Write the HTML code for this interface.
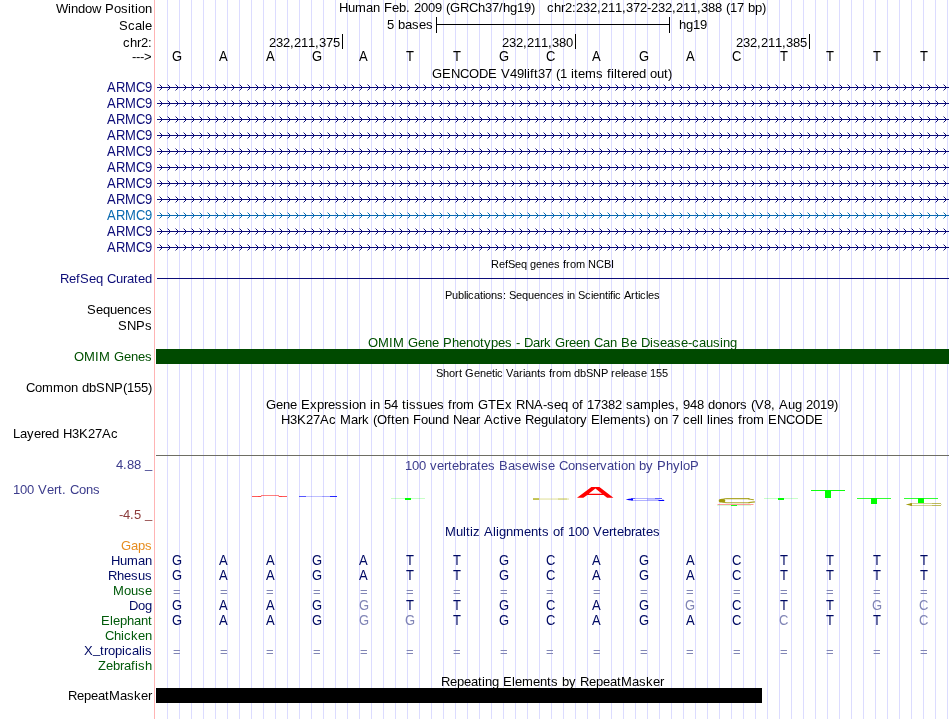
<!DOCTYPE html>
<html><head><meta charset="utf-8"><title>UCSC Genome Browser</title>
<style>html,body{margin:0;padding:0;background:#fff;overflow:hidden}svg{display:block;will-change:transform}text{font-family:"Liberation Sans",sans-serif;font-size:13px}.s{font-size:11px}</style></head><body>
<svg width="950" height="719" viewBox="0 0 950 719">
<rect width="950" height="719" fill="#fff"/>
<g fill="#dcdcff" shape-rendering="crispEdges">
<rect x="167" y="0" width="1" height="719"/>
<rect x="179" y="0" width="1" height="719"/>
<rect x="191" y="0" width="1" height="719"/>
<rect x="203" y="0" width="1" height="719"/>
<rect x="215" y="0" width="1" height="719"/>
<rect x="227" y="0" width="1" height="719"/>
<rect x="239" y="0" width="1" height="719"/>
<rect x="251" y="0" width="1" height="719"/>
<rect x="263" y="0" width="1" height="719"/>
<rect x="275" y="0" width="1" height="719"/>
<rect x="287" y="0" width="1" height="719"/>
<rect x="299" y="0" width="1" height="719"/>
<rect x="311" y="0" width="1" height="719"/>
<rect x="323" y="0" width="1" height="719"/>
<rect x="335" y="0" width="1" height="719"/>
<rect x="347" y="0" width="1" height="719"/>
<rect x="359" y="0" width="1" height="719"/>
<rect x="371" y="0" width="1" height="719"/>
<rect x="383" y="0" width="1" height="719"/>
<rect x="395" y="0" width="1" height="719"/>
<rect x="407" y="0" width="1" height="719"/>
<rect x="419" y="0" width="1" height="719"/>
<rect x="431" y="0" width="1" height="719"/>
<rect x="443" y="0" width="1" height="719"/>
<rect x="455" y="0" width="1" height="719"/>
<rect x="467" y="0" width="1" height="719"/>
<rect x="479" y="0" width="1" height="719"/>
<rect x="491" y="0" width="1" height="719"/>
<rect x="503" y="0" width="1" height="719"/>
<rect x="515" y="0" width="1" height="719"/>
<rect x="527" y="0" width="1" height="719"/>
<rect x="539" y="0" width="1" height="719"/>
<rect x="551" y="0" width="1" height="719"/>
<rect x="563" y="0" width="1" height="719"/>
<rect x="575" y="0" width="1" height="719"/>
<rect x="587" y="0" width="1" height="719"/>
<rect x="599" y="0" width="1" height="719"/>
<rect x="611" y="0" width="1" height="719"/>
<rect x="623" y="0" width="1" height="719"/>
<rect x="635" y="0" width="1" height="719"/>
<rect x="647" y="0" width="1" height="719"/>
<rect x="659" y="0" width="1" height="719"/>
<rect x="671" y="0" width="1" height="719"/>
<rect x="683" y="0" width="1" height="719"/>
<rect x="695" y="0" width="1" height="719"/>
<rect x="707" y="0" width="1" height="719"/>
<rect x="719" y="0" width="1" height="719"/>
<rect x="731" y="0" width="1" height="719"/>
<rect x="743" y="0" width="1" height="719"/>
<rect x="755" y="0" width="1" height="719"/>
<rect x="767" y="0" width="1" height="719"/>
<rect x="779" y="0" width="1" height="719"/>
<rect x="791" y="0" width="1" height="719"/>
<rect x="803" y="0" width="1" height="719"/>
<rect x="815" y="0" width="1" height="719"/>
<rect x="827" y="0" width="1" height="719"/>
<rect x="839" y="0" width="1" height="719"/>
<rect x="851" y="0" width="1" height="719"/>
<rect x="863" y="0" width="1" height="719"/>
<rect x="875" y="0" width="1" height="719"/>
<rect x="887" y="0" width="1" height="719"/>
<rect x="899" y="0" width="1" height="719"/>
<rect x="911" y="0" width="1" height="719"/>
<rect x="923" y="0" width="1" height="719"/>
<rect x="935" y="0" width="1" height="719"/>
<rect x="947" y="0" width="1" height="719"/>
</g>
<rect x="154" y="0" width="1" height="719" fill="#ffb4b4" shape-rendering="crispEdges"/>
<text x="56 68 71 78 85 92 101 105 114 121 128 131 135 138 145" y="12.6" xml:space="preserve">Window Position</text>
<text x="119 128 135 142 145" y="29.6">Scale</text>
<text x="123 130 137 141 148" y="46.6">chr2:</text>
<text x="132 136 140 144" y="60.6">---&gt;</text>
<text x="339 348 355 366 373 380 384 392 399 406 410 414 421 428 435 442 446 450 460 469 478 485 492 499 503 510 517 524 531 535 539 543 547 554 561 565 572 576 583 590 597 601 608 615 622 626 633 640 647 651 658 665 672 676 683 690 697 701 708 715 722 726 730 737 744 748 755 762" y="12.3" xml:space="preserve">Human Feb. 2009 (GRCh37/hg19)   chr2:232,211,372-232,211,388 (17 bp)</text>
<text x="387 394 398 405 412 419 426" y="28.7" xml:space="preserve">5 bases</text>
<text x="679 686 693 700" y="28.7">hg19</text>
<g fill="#000" shape-rendering="crispEdges">
<rect x="436" y="17" width="1" height="16"/><rect x="669" y="17" width="1" height="16"/><rect x="436" y="24" width="234" height="1"/>
<rect x="342" y="34" width="1" height="15"/>
<rect x="575" y="34" width="1" height="15"/>
<rect x="809" y="34" width="1" height="15"/>
</g>
<text x="269 276 283 290 294 301 308 315 319 326 333" y="46.9">232,211,375</text>
<text x="502 509 516 523 527 534 541 548 552 559 566" y="46.9">232,211,380</text>
<text x="736 743 750 757 761 768 775 782 786 793 800" y="46.9">232,211,385</text>
<text x="172" transform="matrix(1 0 0 1.1 0 60.6)">G</text>
<text x="219" transform="matrix(1 0 0 1.1 0 60.6)">A</text>
<text x="266" transform="matrix(1 0 0 1.1 0 60.6)">A</text>
<text x="312" transform="matrix(1 0 0 1.1 0 60.6)">G</text>
<text x="359" transform="matrix(1 0 0 1.1 0 60.6)">A</text>
<text x="406" transform="matrix(1 0 0 1.1 0 60.6)">T</text>
<text x="453" transform="matrix(1 0 0 1.1 0 60.6)">T</text>
<text x="499" transform="matrix(1 0 0 1.1 0 60.6)">G</text>
<text x="546" transform="matrix(1 0 0 1.1 0 60.6)">C</text>
<text x="592" transform="matrix(1 0 0 1.1 0 60.6)">A</text>
<text x="639" transform="matrix(1 0 0 1.1 0 60.6)">G</text>
<text x="686" transform="matrix(1 0 0 1.1 0 60.6)">A</text>
<text x="732" transform="matrix(1 0 0 1.1 0 60.6)">C</text>
<text x="780" transform="matrix(1 0 0 1.1 0 60.6)">T</text>
<text x="826" transform="matrix(1 0 0 1.1 0 60.6)">T</text>
<text x="873" transform="matrix(1 0 0 1.1 0 60.6)">T</text>
<text x="920" transform="matrix(1 0 0 1.1 0 60.6)">T</text>
<text x="432 442 451 460 469 479 488 497 501 510 517 524 527 530 534 538 545 552 556 560 567 571 574 578 585 596 603 607 611 614 617 621 628 632 639 646 650 657 664 668" y="78" xml:space="preserve">GENCODE V49lift37 (1 items filtered out)</text>
<defs><g id="c"><path d="M-2,-2h1v1h1v1h1v1h-1v1h-1v1h-1v-1h1v-1h1v-1h-1v-1h-1z"/><path opacity=".45" d="M-3,-3h1v1h-1zM-3,3h1v1h-1z"/></g><g id="r" shape-rendering="crispEdges"><rect x="157" y="0" width="792" height="1"/><use href="#c" x="162"/><use href="#c" x="170"/><use href="#c" x="178"/><use href="#c" x="186"/><use href="#c" x="194"/><use href="#c" x="202"/><use href="#c" x="210"/><use href="#c" x="218"/><use href="#c" x="226"/><use href="#c" x="234"/><use href="#c" x="242"/><use href="#c" x="250"/><use href="#c" x="258"/><use href="#c" x="266"/><use href="#c" x="274"/><use href="#c" x="282"/><use href="#c" x="290"/><use href="#c" x="298"/><use href="#c" x="306"/><use href="#c" x="314"/><use href="#c" x="322"/><use href="#c" x="330"/><use href="#c" x="338"/><use href="#c" x="346"/><use href="#c" x="354"/><use href="#c" x="362"/><use href="#c" x="370"/><use href="#c" x="378"/><use href="#c" x="386"/><use href="#c" x="394"/><use href="#c" x="402"/><use href="#c" x="410"/><use href="#c" x="418"/><use href="#c" x="426"/><use href="#c" x="434"/><use href="#c" x="442"/><use href="#c" x="450"/><use href="#c" x="458"/><use href="#c" x="466"/><use href="#c" x="474"/><use href="#c" x="482"/><use href="#c" x="490"/><use href="#c" x="498"/><use href="#c" x="506"/><use href="#c" x="514"/><use href="#c" x="522"/><use href="#c" x="530"/><use href="#c" x="538"/><use href="#c" x="546"/><use href="#c" x="554"/><use href="#c" x="562"/><use href="#c" x="570"/><use href="#c" x="578"/><use href="#c" x="586"/><use href="#c" x="594"/><use href="#c" x="602"/><use href="#c" x="610"/><use href="#c" x="618"/><use href="#c" x="626"/><use href="#c" x="634"/><use href="#c" x="642"/><use href="#c" x="650"/><use href="#c" x="658"/><use href="#c" x="666"/><use href="#c" x="674"/><use href="#c" x="682"/><use href="#c" x="690"/><use href="#c" x="698"/><use href="#c" x="706"/><use href="#c" x="714"/><use href="#c" x="722"/><use href="#c" x="730"/><use href="#c" x="738"/><use href="#c" x="746"/><use href="#c" x="754"/><use href="#c" x="762"/><use href="#c" x="770"/><use href="#c" x="778"/><use href="#c" x="786"/><use href="#c" x="794"/><use href="#c" x="802"/><use href="#c" x="810"/><use href="#c" x="818"/><use href="#c" x="826"/><use href="#c" x="834"/><use href="#c" x="842"/><use href="#c" x="850"/><use href="#c" x="858"/><use href="#c" x="866"/><use href="#c" x="874"/><use href="#c" x="882"/><use href="#c" x="890"/><use href="#c" x="898"/><use href="#c" x="906"/><use href="#c" x="914"/><use href="#c" x="922"/><use href="#c" x="930"/><use href="#c" x="938"/><use href="#c" x="946"/></g></defs>
<text x="107 116 125 136 145" transform="matrix(1 0 0 1.1 0 92)" fill="#0c0c78">ARMC9</text>
<use href="#r" y="87" fill="#0c0c78"/>
<text x="107 116 125 136 145" transform="matrix(1 0 0 1.1 0 108)" fill="#0c0c78">ARMC9</text>
<use href="#r" y="103" fill="#0c0c78"/>
<text x="107 116 125 136 145" transform="matrix(1 0 0 1.1 0 124)" fill="#0c0c78">ARMC9</text>
<use href="#r" y="119" fill="#0c0c78"/>
<text x="107 116 125 136 145" transform="matrix(1 0 0 1.1 0 140)" fill="#0c0c78">ARMC9</text>
<use href="#r" y="135" fill="#0c0c78"/>
<text x="107 116 125 136 145" transform="matrix(1 0 0 1.1 0 156)" fill="#0c0c78">ARMC9</text>
<use href="#r" y="151" fill="#0c0c78"/>
<text x="107 116 125 136 145" transform="matrix(1 0 0 1.1 0 172)" fill="#0c0c78">ARMC9</text>
<use href="#r" y="167" fill="#0c0c78"/>
<text x="107 116 125 136 145" transform="matrix(1 0 0 1.1 0 188)" fill="#0c0c78">ARMC9</text>
<use href="#r" y="183" fill="#0c0c78"/>
<text x="107 116 125 136 145" transform="matrix(1 0 0 1.1 0 204)" fill="#0c0c78">ARMC9</text>
<use href="#r" y="199" fill="#0c0c78"/>
<text x="107 116 125 136 145" transform="matrix(1 0 0 1.1 0 220)" fill="#0a6ab0">ARMC9</text>
<use href="#r" y="215" fill="#0a6ab0"/>
<text x="107 116 125 136 145" transform="matrix(1 0 0 1.1 0 236)" fill="#0c0c78">ARMC9</text>
<use href="#r" y="231" fill="#0c0c78"/>
<text x="107 116 125 136 145" transform="matrix(1 0 0 1.1 0 252)" fill="#0c0c78">ARMC9</text>
<use href="#r" y="247" fill="#0c0c78"/>
<text x="60 69 76 80 89 96 103 107 116 123 127 134 138 145" y="282.7" fill="#0c0c78" xml:space="preserve">RefSeq Curated</text>
<rect x="157" y="278" width="792" height="1" fill="#0c0c78" shape-rendering="crispEdges"/>
<text x="491 499 505 508 515 521 527 530 536 542 548 554 560 563 566 570 576 585 588 596 604 611" y="268" class="s" xml:space="preserve">RefSeq genes from NCBI</text>
<text x="445 452 458 464 466 468 474 480 483 485 491 497 503 506 509 516 522 528 534 540 546 552 558 564 567 569 575 578 585 591 593 599 605 608 610 613 615 621 624 631 635 638 640 646 648 654" y="299" class="s" xml:space="preserve">Publications: Sequences in Scientific Articles</text>
<text x="87 96 103 110 117 124 131 138 145" y="313.7">Sequences</text>
<text x="118 127 136 145" y="329.7">SNPs</text>
<text x="368 378 389 393 404 408 418 425 432 439 443 452 459 466 473 480 484 491 498 505 512 516 520 524 533 540 544 551 555 565 569 576 583 590 594 603 610 617 621 630 637 641 650 653 660 667 674 681 688 692 699 706 713 720 723 730" y="346.5" fill="#005000" xml:space="preserve">OMIM Gene Phenotypes - Dark Green Can Be Disease-causing</text>
<text x="74 84 95 99 110 114 124 131 138 145" y="360.7" fill="#005000" xml:space="preserve">OMIM Genes</text>
<rect x="156" y="349" width="793" height="15" fill="#004a00" shape-rendering="crispEdges"/>
<text x="436 443 449 455 459 462 465 474 480 486 492 495 497 503 506 513 519 523 525 531 537 540 546 549 552 556 562 571 574 580 586 593 601 608 611 615 621 623 629 635 641 647 650 656 662" y="377" class="s" xml:space="preserve">Short Genetic Variants from dbSNP release 155</text>
<text x="26 35 42 53 64 71 78 82 89 96 105 114 123 127 134 141 148" y="391.7" xml:space="preserve">Common dbSNP(155)</text>
<text x="266 276 283 290 297 301 310 317 324 328 335 342 349 352 359 366 370 373 380 384 391 398 402 406 409 416 423 430 437 444 448 452 456 463 474 478 488 496 505 512 516 525 534 543 547 554 561 568 572 579 583 587 594 601 608 615 622 626 633 640 651 658 661 668 675 679 683 690 697 704 708 715 722 729 736 740 747 751 755 764 771 775 779 788 795 802 806 813 820 827 834" y="408.7" xml:space="preserve">Gene Expression in 54 tissues from GTEx RNA-seq of 17382 samples, 948 donors (V8, Aug 2019)</text>
<text x="281 290 297 306 313 320 329 336 340 351 358 362 369 373 377 387 391 395 402 409 413 421 428 435 442 449 453 462 469 476 480 484 493 500 504 507 514 521 525 534 541 548 555 558 565 569 576 580 587 591 600 603 610 621 628 635 639 646 650 654 661 668 672 679 683 690 697 700 703 707 710 713 720 727 734 738 742 746 753 764 768 777 786 795 805 814" y="423.7" xml:space="preserve">H3K27Ac Mark (Often Found Near Active Regulatory Elements) on 7 cell lines from ENCODE</text>
<text x="13 20 27 34 41 45 52 59 63 72 79 88 95 102 111" y="437.9" xml:space="preserve">Layered H3K27Ac</text>
<rect x="156" y="455" width="793" height="1" fill="#6e6e64" shape-rendering="crispEdges"/>
<text x="116 123 127 134 141 145" y="469.2" dy="0 0 0 0 0 -1.3" fill="#3c3c8c" xml:space="preserve">4.88 _</text>
<text x="13 20 27 34 38 47 54 58 62 66 70 79 86 93" y="494.2" fill="#3c3c8c" xml:space="preserve">100 Vert. Cons</text>
<text x="119 123 130 134 141 145" y="519.2" dy="0 0 0 0 0 -1.3" fill="#8c3c3c" xml:space="preserve">-4.5 _</text>
<text x="405 412 419 426 430 437 444 448 452 459 466 470 477 481 488 495 499 508 515 522 529 538 541 548 555 559 568 575 582 589 596 600 607 614 618 621 628 635 639 646 653 657 666 673 680 683 690" y="469.7" fill="#3c3c8c" xml:space="preserve">100 vertebrates Basewise Conservation by PhyloP</text>
<g shape-rendering="crispEdges">
<rect x="252" y="496" width="9" height="1" fill="#f00" opacity="0.65"/>
<rect x="261" y="495" width="18" height="1" fill="#f00" opacity="0.5"/>
<rect x="279" y="496" width="8" height="1" fill="#f00" opacity="0.65"/>
<rect x="258" y="495.5" width="4" height="1" fill="#f00" opacity="0.25"/>
<rect x="278" y="495.5" width="4" height="1" fill="#f00" opacity="0.25"/>
<rect x="299" y="496" width="38" height="1" fill="#00f" opacity="0.25"/>
<rect x="299" y="495.6" width="7" height="1.4" fill="#00f" opacity="0.55"/>
<rect x="330" y="496" width="7" height="1" fill="#00f" opacity="0.8"/>
<rect x="322" y="495.6" width="8" height="1" fill="#00f" opacity="0.15"/>
<rect x="391" y="498" width="34" height="1" fill="#0f0" opacity="0.22"/>
<rect x="405" y="498" width="6" height="2" fill="#0f0"/>
<rect x="764" y="498" width="34" height="1" fill="#0f0" opacity="0.22"/>
<rect x="778" y="498" width="6" height="2" fill="#0f0"/>
<rect x="811" y="490" width="34" height="1" fill="#0f0" opacity="0.95"/>
<rect x="825" y="490" width="6" height="8" fill="#0f0"/>
<rect x="857" y="498" width="34" height="1" fill="#0f0" opacity="0.8"/>
<rect x="871" y="498" width="6" height="6" fill="#0f0"/>
<rect x="904" y="498" width="34" height="1" fill="#0f0" opacity="0.8"/>
<rect x="918" y="498" width="6" height="5" fill="#0f0"/>
</g>
<rect x="533" y="498.3" width="36" height="1.5" fill="#c8c850" opacity="0.4"/>
<rect x="533" y="498.2" width="6" height="1.7" fill="#b4b428" opacity="0.85"/>
<rect x="558" y="498.3" width="9" height="1.5" fill="#bcbc3c" opacity="0.4"/>
<path fill="#f00" fill-rule="evenodd" d="M577,497.8L591.4,486.9L599.4,486.9L613.4,497.8L607.1,497.8L603.6,495L587.4,495L583.3,497.8ZM595.4,488.5L602,493.8L588.7,493.8Z"/>
<path fill="#00f" d="M625.7,499.5L629,498.7L633,498.4L633,500.6L629,500.3Z"/>
<rect x="631" y="498" width="31" height="1" fill="#00f" opacity="0.3"/>
<rect x="631" y="500" width="28" height="1" fill="#00f" opacity="0.3"/>
<rect x="655" y="498" width="7" height="1" fill="#00f" opacity="0.45"/>
<rect x="631" y="498" width="4" height="1" fill="#00f" opacity="0.4"/>
<rect x="647" y="499" width="12" height="1" fill="#00f" opacity="0.22"/>
<rect x="658.5" y="500" width="5.7" height="1" fill="#00f"/>
<rect x="662" y="499" width="1.5" height="1" fill="#00f" opacity="0.25"/>
<path fill="none" stroke="#a09a0a" stroke-width="1.1" opacity=".85" d="M749.5,498.6L727,498.5Q722,498.8 721,500.6Q722,502.6 727,502.8L749.5,502.8"/>
<path fill="#a09a0a" opacity=".9" d="M748,498.6L754,499.2L753.6,500.2L748.5,499.6ZM748.5,502L754.8,501.2L755,502.4L748.5,503.3Z"/>
<ellipse cx="722" cy="500.7" rx="3.3" ry="1.9" fill="#a09a0a"/>
<rect x="717.5" y="504" width="36" height="1" fill="#ff6e6e" opacity="0.7"/>
<rect x="717" y="505" width="34" height="1" fill="#0f0" opacity="0.15"/>
<rect x="731" y="505" width="6" height="1" fill="#0f0" opacity="0.9"/>
<path fill="#a09a0a" d="M905.7,504.5L912,503L912,506Z"/>
<rect x="910" y="503" width="31" height="1" fill="#a09a0a" opacity="0.45"/>
<rect x="910" y="505" width="31" height="1" fill="#a09a0a" opacity="0.45"/>
<rect x="932" y="503" width="9" height="1" fill="#a09a0a" opacity="0.4"/>
<rect x="932" y="505" width="9" height="1" fill="#a09a0a" opacity="0.4"/>
<rect x="941" y="504" width="1" height="1" fill="#a09a0a" opacity="0.25"/>
<text x="445 456 463 466 470 473 480 484 493 496 499 506 513 524 531 538 542 549 553 560 564 568 575 582 589 593 602 609 613 617 624 631 635 642 646 653" y="535.7" fill="#000a64" xml:space="preserve">Multiz Alignments of 100 Vertebrates</text>
<text x="121 131 138 145" y="549.7" fill="#e68c1e">Gaps</text>
<text x="111 120 127 138 145" y="564.7" fill="#000a64">Human</text>
<text x="172" transform="matrix(1 0 0 1.1 0 564.7)" fill="#000a64">G</text>
<text x="219" transform="matrix(1 0 0 1.1 0 564.7)" fill="#000a64">A</text>
<text x="266" transform="matrix(1 0 0 1.1 0 564.7)" fill="#000a64">A</text>
<text x="312" transform="matrix(1 0 0 1.1 0 564.7)" fill="#000a64">G</text>
<text x="359" transform="matrix(1 0 0 1.1 0 564.7)" fill="#000a64">A</text>
<text x="406" transform="matrix(1 0 0 1.1 0 564.7)" fill="#000a64">T</text>
<text x="453" transform="matrix(1 0 0 1.1 0 564.7)" fill="#000a64">T</text>
<text x="499" transform="matrix(1 0 0 1.1 0 564.7)" fill="#000a64">G</text>
<text x="546" transform="matrix(1 0 0 1.1 0 564.7)" fill="#000a64">C</text>
<text x="592" transform="matrix(1 0 0 1.1 0 564.7)" fill="#000a64">A</text>
<text x="639" transform="matrix(1 0 0 1.1 0 564.7)" fill="#000a64">G</text>
<text x="686" transform="matrix(1 0 0 1.1 0 564.7)" fill="#000a64">A</text>
<text x="732" transform="matrix(1 0 0 1.1 0 564.7)" fill="#000a64">C</text>
<text x="780" transform="matrix(1 0 0 1.1 0 564.7)" fill="#000a64">T</text>
<text x="826" transform="matrix(1 0 0 1.1 0 564.7)" fill="#000a64">T</text>
<text x="873" transform="matrix(1 0 0 1.1 0 564.7)" fill="#000a64">T</text>
<text x="920" transform="matrix(1 0 0 1.1 0 564.7)" fill="#000a64">T</text>
<text x="108 117 124 131 138 145" y="579.7" fill="#000a64">Rhesus</text>
<text x="172" transform="matrix(1 0 0 1.1 0 579.7)" fill="#000a64">G</text>
<text x="219" transform="matrix(1 0 0 1.1 0 579.7)" fill="#000a64">A</text>
<text x="266" transform="matrix(1 0 0 1.1 0 579.7)" fill="#000a64">A</text>
<text x="312" transform="matrix(1 0 0 1.1 0 579.7)" fill="#000a64">G</text>
<text x="359" transform="matrix(1 0 0 1.1 0 579.7)" fill="#000a64">A</text>
<text x="406" transform="matrix(1 0 0 1.1 0 579.7)" fill="#000a64">T</text>
<text x="453" transform="matrix(1 0 0 1.1 0 579.7)" fill="#000a64">T</text>
<text x="499" transform="matrix(1 0 0 1.1 0 579.7)" fill="#000a64">G</text>
<text x="546" transform="matrix(1 0 0 1.1 0 579.7)" fill="#000a64">C</text>
<text x="592" transform="matrix(1 0 0 1.1 0 579.7)" fill="#000a64">A</text>
<text x="639" transform="matrix(1 0 0 1.1 0 579.7)" fill="#000a64">G</text>
<text x="686" transform="matrix(1 0 0 1.1 0 579.7)" fill="#000a64">A</text>
<text x="732" transform="matrix(1 0 0 1.1 0 579.7)" fill="#000a64">C</text>
<text x="780" transform="matrix(1 0 0 1.1 0 579.7)" fill="#000a64">T</text>
<text x="826" transform="matrix(1 0 0 1.1 0 579.7)" fill="#000a64">T</text>
<text x="873" transform="matrix(1 0 0 1.1 0 579.7)" fill="#000a64">T</text>
<text x="920" transform="matrix(1 0 0 1.1 0 579.7)" fill="#000a64">T</text>
<text x="113 124 131 138 145" y="594.7" fill="#005a0a">Mouse</text>
<text x="173" y="595.7" fill="#8085b5">=</text>
<text x="220" y="595.7" fill="#8085b5">=</text>
<text x="266" y="595.7" fill="#8085b5">=</text>
<text x="313" y="595.7" fill="#8085b5">=</text>
<text x="360" y="595.7" fill="#8085b5">=</text>
<text x="406" y="595.7" fill="#8085b5">=</text>
<text x="453" y="595.7" fill="#8085b5">=</text>
<text x="500" y="595.7" fill="#8085b5">=</text>
<text x="546" y="595.7" fill="#8085b5">=</text>
<text x="593" y="595.7" fill="#8085b5">=</text>
<text x="640" y="595.7" fill="#8085b5">=</text>
<text x="686" y="595.7" fill="#8085b5">=</text>
<text x="733" y="595.7" fill="#8085b5">=</text>
<text x="780" y="595.7" fill="#8085b5">=</text>
<text x="826" y="595.7" fill="#8085b5">=</text>
<text x="873" y="595.7" fill="#8085b5">=</text>
<text x="920" y="595.7" fill="#8085b5">=</text>
<text x="129 138 145" y="609.7" fill="#000a64">Dog</text>
<text x="172" transform="matrix(1 0 0 1.1 0 609.7)" fill="#000a64">G</text>
<text x="219" transform="matrix(1 0 0 1.1 0 609.7)" fill="#000a64">A</text>
<text x="266" transform="matrix(1 0 0 1.1 0 609.7)" fill="#000a64">A</text>
<text x="312" transform="matrix(1 0 0 1.1 0 609.7)" fill="#000a64">G</text>
<text x="359" transform="matrix(1 0 0 1.1 0 609.7)" fill="#8085b5">G</text>
<text x="406" transform="matrix(1 0 0 1.1 0 609.7)" fill="#000a64">T</text>
<text x="453" transform="matrix(1 0 0 1.1 0 609.7)" fill="#000a64">T</text>
<text x="499" transform="matrix(1 0 0 1.1 0 609.7)" fill="#000a64">G</text>
<text x="546" transform="matrix(1 0 0 1.1 0 609.7)" fill="#000a64">C</text>
<text x="592" transform="matrix(1 0 0 1.1 0 609.7)" fill="#000a64">A</text>
<text x="639" transform="matrix(1 0 0 1.1 0 609.7)" fill="#000a64">G</text>
<text x="685" transform="matrix(1 0 0 1.1 0 609.7)" fill="#8085b5">G</text>
<text x="732" transform="matrix(1 0 0 1.1 0 609.7)" fill="#000a64">C</text>
<text x="780" transform="matrix(1 0 0 1.1 0 609.7)" fill="#000a64">T</text>
<text x="826" transform="matrix(1 0 0 1.1 0 609.7)" fill="#000a64">T</text>
<text x="872" transform="matrix(1 0 0 1.1 0 609.7)" fill="#8085b5">G</text>
<text x="919" transform="matrix(1 0 0 1.1 0 609.7)" fill="#8085b5">C</text>
<text x="101 110 113 120 127 134 141 148" y="624.7" fill="#005a0a">Elephant</text>
<text x="172" transform="matrix(1 0 0 1.1 0 624.7)" fill="#000a64">G</text>
<text x="219" transform="matrix(1 0 0 1.1 0 624.7)" fill="#000a64">A</text>
<text x="266" transform="matrix(1 0 0 1.1 0 624.7)" fill="#000a64">A</text>
<text x="312" transform="matrix(1 0 0 1.1 0 624.7)" fill="#000a64">G</text>
<text x="359" transform="matrix(1 0 0 1.1 0 624.7)" fill="#8085b5">G</text>
<text x="405" transform="matrix(1 0 0 1.1 0 624.7)" fill="#8085b5">G</text>
<text x="453" transform="matrix(1 0 0 1.1 0 624.7)" fill="#000a64">T</text>
<text x="499" transform="matrix(1 0 0 1.1 0 624.7)" fill="#000a64">G</text>
<text x="546" transform="matrix(1 0 0 1.1 0 624.7)" fill="#000a64">C</text>
<text x="592" transform="matrix(1 0 0 1.1 0 624.7)" fill="#000a64">A</text>
<text x="639" transform="matrix(1 0 0 1.1 0 624.7)" fill="#000a64">G</text>
<text x="686" transform="matrix(1 0 0 1.1 0 624.7)" fill="#000a64">A</text>
<text x="732" transform="matrix(1 0 0 1.1 0 624.7)" fill="#000a64">C</text>
<text x="779" transform="matrix(1 0 0 1.1 0 624.7)" fill="#8085b5">C</text>
<text x="826" transform="matrix(1 0 0 1.1 0 624.7)" fill="#000a64">T</text>
<text x="873" transform="matrix(1 0 0 1.1 0 624.7)" fill="#000a64">T</text>
<text x="919" transform="matrix(1 0 0 1.1 0 624.7)" fill="#8085b5">C</text>
<text x="105 114 121 124 131 138 145" y="639.7" fill="#005a0a">Chicken</text>
<text x="84 93 100 104 108 115 122 125 132 139 142 145" y="654.7" dy="0 -1.3 1.3 0 0 0 0 0 0 0 0 0" fill="#000a64">X_tropicalis</text>
<text x="173" y="655.7" fill="#8085b5">=</text>
<text x="220" y="655.7" fill="#8085b5">=</text>
<text x="266" y="655.7" fill="#8085b5">=</text>
<text x="313" y="655.7" fill="#8085b5">=</text>
<text x="360" y="655.7" fill="#8085b5">=</text>
<text x="406" y="655.7" fill="#8085b5">=</text>
<text x="453" y="655.7" fill="#8085b5">=</text>
<text x="500" y="655.7" fill="#8085b5">=</text>
<text x="546" y="655.7" fill="#8085b5">=</text>
<text x="593" y="655.7" fill="#8085b5">=</text>
<text x="640" y="655.7" fill="#8085b5">=</text>
<text x="686" y="655.7" fill="#8085b5">=</text>
<text x="733" y="655.7" fill="#8085b5">=</text>
<text x="780" y="655.7" fill="#8085b5">=</text>
<text x="826" y="655.7" fill="#8085b5">=</text>
<text x="873" y="655.7" fill="#8085b5">=</text>
<text x="920" y="655.7" fill="#8085b5">=</text>
<text x="98 106 113 120 124 131 135 138 145" y="669.7" fill="#005a0a">Zebrafish</text>
<text x="441 450 457 464 471 478 482 485 492 499 503 512 515 522 533 540 547 551 558 562 569 576 580 589 596 603 610 617 621 632 639 646 653 660" y="685.7" xml:space="preserve">Repeating Elements by RepeatMasker</text>
<text x="68 77 84 91 98 105 109 120 127 134 141 148" y="699.7">RepeatMasker</text>
<rect x="156" y="688" width="606" height="15" fill="#000" shape-rendering="crispEdges"/>
</svg></body></html>
